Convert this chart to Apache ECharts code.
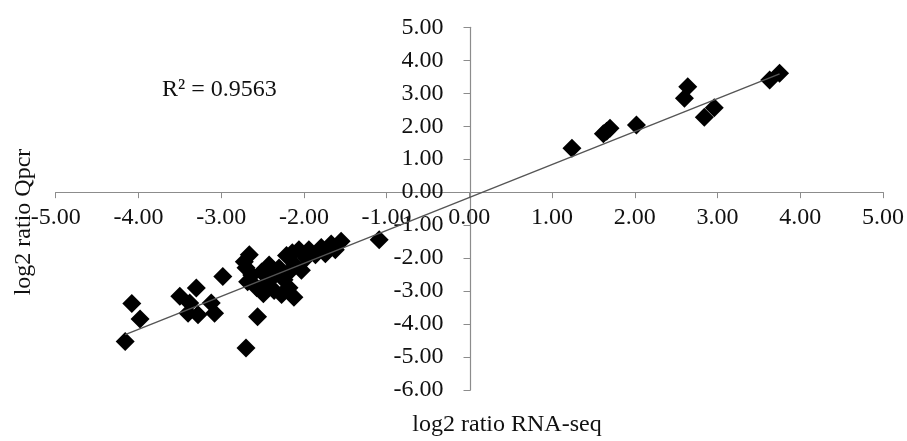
<!DOCTYPE html>
<html><head><meta charset="utf-8">
<script src="https://cdn.jsdelivr.net/npm/echarts@6/dist/echarts.min.js"></script>
<style>html,body{margin:0;padding:0;background:#fff}#c{width:907px;height:441px}</style>
</head><body><div id="c"></div>
<script>
// log2 ratio RNA-seq (x) and log2 ratio Qpcr (y)
const rnaSeq = [
  -4.16, -4.08, -3.98, -3.50, -3.30, -3.40, -3.28, -3.12, -3.08, -3.38,
  -2.98, -2.70, -2.56,
  -2.66, -2.72, -2.70, -2.63, -2.68, -2.57, -2.51, -2.44, -2.42, -2.35,
  -2.30, -2.24, -2.36, -2.27, -2.12, -2.18, -2.49,
  -2.21, -2.14, -2.06, -2.11, -2.18, -2.03, -1.97, -1.94, -1.86, -1.79,
  -1.74, -1.67, -1.62, -1.55, -1.09,
  1.24, 1.62, 1.70, 1.66, 2.02, 2.64, 2.60, 2.84, 2.96, 3.63, 3.75
];
const qpcr = [
  -4.53, -3.38, -3.85, -3.16, -2.91, -3.67, -3.72, -3.36, -3.67, -3.36,
  -2.56, -4.73, -3.78,
  -1.90, -2.11, -2.29, -2.51, -2.72, -2.90, -2.42, -2.72, -2.21, -2.51,
  -2.30, -2.66, -2.98, -3.10, -3.19, -2.90, -3.08,
  -1.92, -1.84, -1.75, -2.20, -2.43, -2.37, -1.99, -1.75, -1.90, -1.68,
  -1.87, -1.57, -1.75, -1.49, -1.44,
  1.33, 1.77, 1.94, 1.85, 2.04, 3.20, 2.85, 2.27, 2.56, 3.40, 3.61
];
// linear trendline
const trendSlope = 1.0;
const trendIntercept = -0.16;
const r2Text = 'R² = 0.9563';
const xTitle = 'log2 ratio RNA-seq';
const yTitle = 'log2 ratio Qpcr';
const xRange = [-5, 5];
const yRange = [-6, 5];
const tickStep = 1;

const points = rnaSeq.map((x, i) => [x, qpcr[i]]);
const xLo = Math.min(...rnaSeq), xHi = Math.max(...rnaSeq);
const trend = [[xLo, trendSlope * xLo + trendIntercept], [xHi, trendSlope * xHi + trendIntercept]];

const W = 907, H = 441;
const grid = {left: 55.7, right: 21.7, top: 27.3, bottom: 51};
const gridW = W - grid.left - grid.right, gridH = H - grid.top - grid.bottom;
// move the axes so that they cross at the origin
const xAxisOffset = -((0 - yRange[0]) / (yRange[1] - yRange[0])) * gridH;
const yAxisOffset = -((0 - xRange[0]) / (xRange[1] - xRange[0])) * gridW;

const font = 'Liberation Serif';
const axisCol = '#8c8c8c';
const chart = echarts.init(document.getElementById('c'), null, {renderer: 'canvas'});
chart.setOption({
  animation: false,
  backgroundColor: '#fff',
  grid: grid,
  xAxis: {
    type: 'value', min: xRange[0], max: xRange[1], interval: tickStep,
    position: 'bottom', offset: xAxisOffset,
    axisLine: {show: true, onZero: false, lineStyle: {color: axisCol, width: 1.2}},
    axisTick: {show: true, length: 6, lineStyle: {color: axisCol}},
    splitLine: {show: false},
    axisLabel: {fontFamily: font, fontSize: 24, color: '#111', margin: 14,
      formatter: v => v.toFixed(2), hideOverlap: false}
  },
  yAxis: {
    type: 'value', min: yRange[0], max: yRange[1], interval: tickStep,
    position: 'left', offset: yAxisOffset,
    axisLine: {show: true, onZero: false, lineStyle: {color: axisCol, width: 1.2}},
    axisTick: {show: true, length: 7, lineStyle: {color: axisCol}},
    splitLine: {show: false},
    axisLabel: {fontFamily: font, fontSize: 24, color: '#111', margin: 27,
      formatter: v => v.toFixed(2), hideOverlap: false}
  },
  graphic: [
    {type: 'text', left: 162, top: 78, style: {text: r2Text, font: '24px "Liberation Serif"', fill: '#111'}},
    {type: 'text', x: 507, y: 425, style: {text: xTitle, font: '24px "Liberation Serif"', fill: '#111', align: 'center', verticalAlign: 'middle'}},
    {type: 'text', x: 24, y: 222, rotation: Math.PI / 2, style: {text: yTitle, font: '24px "Liberation Serif"', fill: '#111', align: 'center', verticalAlign: 'middle'}}
  ],
  series: [
    {type: 'scatter', data: points, symbol: 'diamond', symbolSize: 19,
      itemStyle: {color: '#000', opacity: 1}, z: 2},
    {type: 'line', data: trend, symbol: 'none', z: 3,
      lineStyle: {color: '#555', width: 1.4}}
  ]
});
</script></body></html>
